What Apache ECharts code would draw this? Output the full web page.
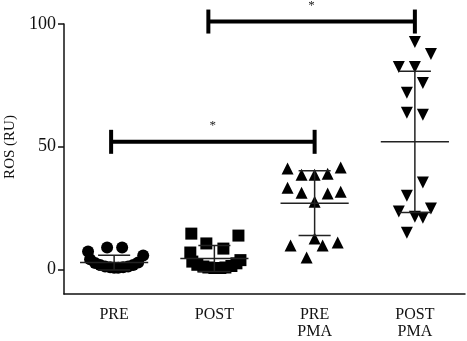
<!DOCTYPE html>
<html>
<head>
<meta charset="utf-8">
<script src="https://cdn.jsdelivr.net/npm/echarts@6/dist/echarts.min.js"></script>
<style>
  html, body { margin: 0; padding: 0; background: #fff; }
  #chart { width: 467px; height: 341px; }
</style>
</head>
<body>
<div id="chart"></div>
<script>
// groups on the x axis
var categories = ['PRE', 'POST', 'PRE\nPMA', 'POST\nPMA']
var yTicks = [0, 50, 100]

// ROS values per group, with horizontal jitter (in category widths)
var preVals = [7.3, 8.9, 8.9, 5.7, 4.2, 2.6, 1.8, 1.2, 0.9, 0.7, 0.7, 0.9, 1.2, 1.8, 2.8]
var preJitter = [-0.26, -0.07, 0.08, 0.29, -0.24, -0.19, -0.14, -0.09, -0.04, 0, 0.04, 0.09, 0.14, 0.19, 0.24]
var postVals = [14.6, 13.8, 10.6, 8.5, 6.9, 3.2, 1.9, 1.2, 0.8, 0.6, 0.6, 0.8, 1.4, 2.5, 3.8]
var postJitter = [-0.23, 0.24, -0.08, 0.09, -0.24, -0.22, -0.17, -0.11, -0.06, 0, 0.06, 0.11, 0.17, 0.22, 0.26]
var prePmaVals = [41.1, 38.6, 38.6, 39.0, 41.5, 33.3, 31.3, 30.9, 31.7, 27.6, 9.8, 12.6, 9.8, 11.0, 4.9]
var prePmaJitter = [-0.27, -0.13, 0, 0.13, 0.26, -0.27, -0.13, 0.13, 0.26, 0, -0.24, 0, 0.08, 0.23, -0.08]
var postPmaVals = [92.7, 87.8, 82.5, 82.5, 76.0, 72.0, 63.8, 63.0, 35.4, 30.0, 23.6, 21.5, 21.1, 24.8, 15.0]
var postPmaJitter = [0, 0.16, -0.16, 0, 0.08, -0.08, -0.08, 0.08, 0.08, -0.08, -0.16, 0, 0.08, 0.16, -0.08]

// mean and SD as drawn
var means = [2.8, 4.5, 27.0, 52.0]
var sds = [3.0, 5.3, 13.2, 28.8]

// significance brackets: [from, to, level, label]
var brackets = [
  [-0.03, 2.0, 52, '*'],
  [0.94, 3.0, 101, '*']
]

var FONT = 'Liberation Serif'
var INK = '#111'

function points (g, vals, jitter) {
  return vals.map(function (v, i) { return [g + jitter[i], v] })
}

var chart = echarts.init(document.getElementById('chart'))

function scatter (g, vals, jitter, symbol, size, rotate) {
  return {
    type: 'scatter',
    xAxisIndex: 1,
    data: points(g, vals, jitter),
    symbol: symbol,
    symbolSize: size,
    symbolRotate: rotate || 0,
    itemStyle: { color: '#000', opacity: 1 },
    silent: true,
    z: 2
  }
}

chart.setOption({
  animation: false,
  grid: { left: 64, right: 2, top: 24, bottom: 47, outerBoundsMode: 'none' },
  xAxis: [
    {
      type: 'category',
      data: categories,
      axisLine: { onZero: false, lineStyle: { color: INK, width: 1.5 } },
      axisTick: { alignWithLabel: true, length: 5, lineStyle: { color: INK, width: 1.5 } },
      axisLabel: { fontFamily: FONT, fontSize: 16, color: '#111', margin: 12, lineHeight: 17 }
    },
    { type: 'value', min: -0.5, max: 3.5, show: false }
  ],
  yAxis: {
    type: 'value',
    min: -10,
    max: 100,
    name: 'ROS (RU)',
    nameLocation: 'middle',
    nameGap: 46,
    nameTextStyle: { fontFamily: FONT, fontSize: 15, color: '#111', padding: [0, 0, 0, 24] },
    axisLine: { show: true, onZero: false, lineStyle: { color: INK, width: 1.5 } },
    axisTick: { show: true, length: 6, customValues: yTicks, lineStyle: { color: INK, width: 1.5 } },
    axisLabel: { fontFamily: FONT, fontSize: 18, color: '#111', margin: 8, customValues: yTicks },
    splitLine: { show: false }
  },
  series: [
    scatter(0, preVals, preJitter, 'circle', 12),
    scatter(1, postVals, postJitter, 'rect', 12),
    scatter(2, prePmaVals, prePmaJitter, 'triangle', 12),
    scatter(3, postPmaVals, postPmaJitter, 'triangle', 12, 180),
    {
      // mean +- SD
      type: 'custom',
      xAxisIndex: 1,
      data: means.map(function (m, i) { return [i, m, sds[i]] }),
      z: 3,
      silent: true,
      renderItem: function (params, api) {
        var g = api.value(0), m = api.value(1), s = api.value(2)
        var mL = api.coord([g - 0.34, m]), mR = api.coord([g + 0.34, m])
        var top = api.coord([g, m + s]), bot = api.coord([g, m - s])
        var tL = api.coord([g - 0.16, m + s]), tR = api.coord([g + 0.16, m + s])
        var bL = api.coord([g - 0.16, m - s]), bR = api.coord([g + 0.16, m - s])
        var st = { stroke: '#222', lineWidth: 1.5 }
        return {
          type: 'group',
          children: [
            { type: 'line', shape: { x1: mL[0], y1: mL[1], x2: mR[0], y2: mR[1] }, style: st },
            { type: 'line', shape: { x1: top[0], y1: top[1], x2: bot[0], y2: bot[1] }, style: st },
            { type: 'line', shape: { x1: tL[0], y1: tL[1], x2: tR[0], y2: tR[1] }, style: st },
            { type: 'line', shape: { x1: bL[0], y1: bL[1], x2: bR[0], y2: bR[1] }, style: st }
          ]
        }
      }
    },
    {
      // significance brackets
      type: 'custom',
      xAxisIndex: 1,
      clip: false,
      silent: true,
      z: 4,
      data: brackets,
      renderItem: function (params, api) {
        var b = brackets[params.dataIndex]
        var a = api.coord([b[0], b[2]]), c = api.coord([b[1], b[2]])
        var st = { stroke: '#000', lineWidth: 4 }
        return {
          type: 'group',
          children: [
            { type: 'line', shape: { x1: a[0], y1: a[1], x2: c[0], y2: c[1] }, style: st },
            { type: 'line', shape: { x1: a[0], y1: a[1] - 12, x2: a[0], y2: a[1] + 12 }, style: st },
            { type: 'line', shape: { x1: c[0], y1: c[1] - 12, x2: c[0], y2: c[1] + 12 }, style: st },
            {
              type: 'text',
              style: {
                text: b[3], x: (a[0] + c[0]) / 2, y: a[1] - 16,
                align: 'center', verticalAlign: 'middle',
                font: '13px ' + FONT, fill: '#222'
              }
            }
          ]
        }
      }
    }
  ]
})
</script>
</body>
</html>
